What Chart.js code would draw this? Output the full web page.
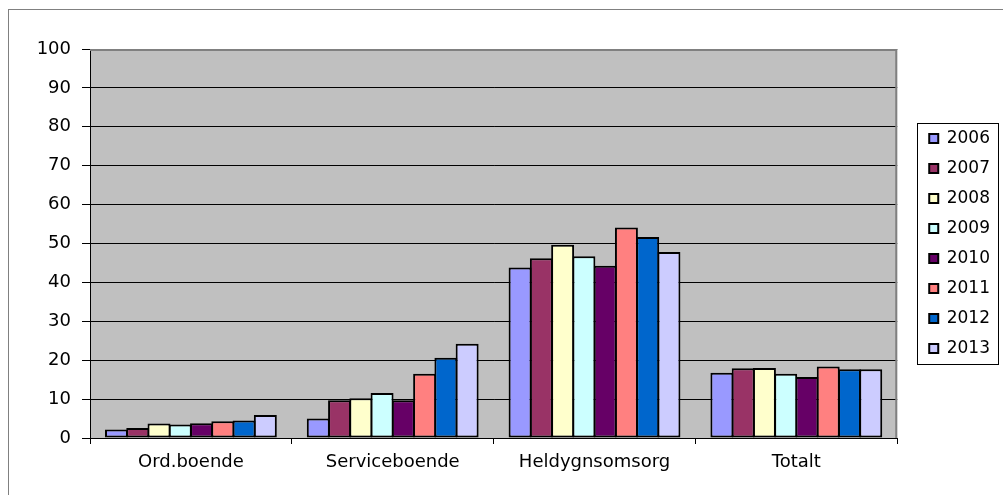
<!DOCTYPE html>
<html>
<head>
<meta charset="utf-8">
<script src="https://cdn.jsdelivr.net/npm/chart.js@4.4.1/dist/chart.umd.min.js"></script>
<style>
  html, body { margin: 0; padding: 0; background: #fff; overflow: hidden; }
  #wrap { position: relative; width: 1003px; height: 495px; overflow: hidden; }
  #frame { position: absolute; left: 8px; top: 9px; width: 1100px; height: 600px; border: 1px solid #808080; }
  canvas { position: absolute; left: 0; top: 0; }
</style>
</head>
<body>
<div id="wrap">
  <div id="frame"></div>
  <canvas id="chart" width="1003" height="495"></canvas>
</div>
<script>
const categories = ["Ord.boende", "Serviceboende", "Heldygnsomsorg", "Totalt"];
const years = ["2006", "2007", "2008", "2009", "2010", "2011", "2012", "2013"];

const v2006 = [2.2, 5.0, 43.8, 16.8];
const v2007 = [2.6, 9.7, 46.2, 17.9];
const v2008 = [3.7, 10.2, 49.7, 18.0];
const v2009 = [3.5, 11.6, 46.7, 16.5];
const v2010 = [3.8, 9.7, 44.3, 15.7];
const v2011 = [4.3, 16.5, 54.1, 18.4];
const v2012 = [4.5, 20.6, 51.7, 17.7];
const v2013 = [5.9, 24.2, 47.8, 17.7];

const yTicks = [0, 10, 20, 30, 40, 50, 60, 70, 80, 90, 100];

const series = [v2006, v2007, v2008, v2009, v2010, v2011, v2012, v2013];
const colors = ["#9999FF", "#993366", "#FFFFCC", "#CCFFFF", "#660066", "#FF8080", "#0066CC", "#CCCCFF"];

Chart.defaults.font.family = "'DejaVu Sans', sans-serif";
Chart.defaults.color = "#000";

// grey plot area background and its border
const plotBg = {
    id: "plotBg",
    beforeDraw(chart) {
        const { ctx, chartArea: a } = chart;
        ctx.save();
        ctx.fillStyle = "#C0C0C0";
        ctx.fillRect(a.left, a.top, a.right - a.left, a.bottom - a.top);
        ctx.restore();
    },
    afterDatasetsDraw(chart) {
        const { ctx, chartArea: a } = chart;
        ctx.save();
        ctx.strokeStyle = "#808080";
        ctx.lineWidth = 2;
        ctx.beginPath();
        ctx.moveTo(a.left, a.top + 1);
        ctx.lineTo(a.right - 1, a.top + 1);
        ctx.lineTo(a.right - 1, a.bottom);
        ctx.stroke();
        ctx.restore();
    }
};

// border round the legend
const legendFrame = {
    id: "legendFrame",
    afterDraw(chart) {
        const lg = chart.legend;
        const hb = lg.legendHitBoxes;
        if (!hb || !hb.length) return;
        const first = hb[0], last = hb[hb.length - 1];
        const top = Math.round(first.top + first.height / 2 - 16) + 0.5;
        const bottom = Math.round(last.top + last.height / 2 + 15) + 0.5;
        const left = Math.round(lg.left) + 1.5;
        const right = Math.round(lg.right) - 1.5;
        const ctx = chart.ctx;
        ctx.save();
        ctx.strokeStyle = "#000";
        ctx.lineWidth = 1;
        ctx.strokeRect(left, top, right - left, bottom - top);
        ctx.restore();
    }
};

const ctx = document.getElementById("chart").getContext("2d");

new Chart(ctx, {
    type: "bar",
    data: {
        labels: categories,
        datasets: years.map((y, i) => ({
            label: y,
            data: series[i],
            yAxisID: "y",
            backgroundColor: colors[i],
            borderColor: "#000",
            borderWidth: 2,
            borderSkipped: false,
            categoryPercentage: 0.843,
            barPercentage: 1.08
        }))
    },
    options: {
        responsive: false,
        animation: false,
        layout: { padding: { top: 49, right: 3, left: 0, bottom: 0 } },
        plugins: {
            legend: {
                position: "right",
                fullSize: false,
                labels: { boxWidth: 9, boxHeight: 9, padding: 13, font: { size: 17 }, color: "#000" }
            },
            tooltip: { enabled: false }
        },
        scales: {
            x: {
                grid: { drawOnChartArea: false, drawTicks: true, tickLength: 6, color: "#000" },
                border: { color: "#000" },
                ticks: { font: { size: 18 }, padding: 8, maxRotation: 0 },
                afterFit(s) { s.height = 57; }
            },
            y: {
                min: 0,
                max: 100,
                afterBuildTicks(s) { s.ticks = yTicks.map(v => ({ value: v })); },
                ticks: { font: { size: 18 }, padding: 11 },
                grid: { color: "#000", tickLength: 8 },
                border: { color: "#000" },
                afterFit(s) { s.width = 90; }
            },
            y2: {
                position: "right",
                display: true,
                grid: { display: false },
                ticks: { display: false },
                border: { display: false },
                afterFit(s) { s.width = 19; }
            }
        }
    },
    plugins: [plotBg, legendFrame]
});
</script>
</body>
</html>
